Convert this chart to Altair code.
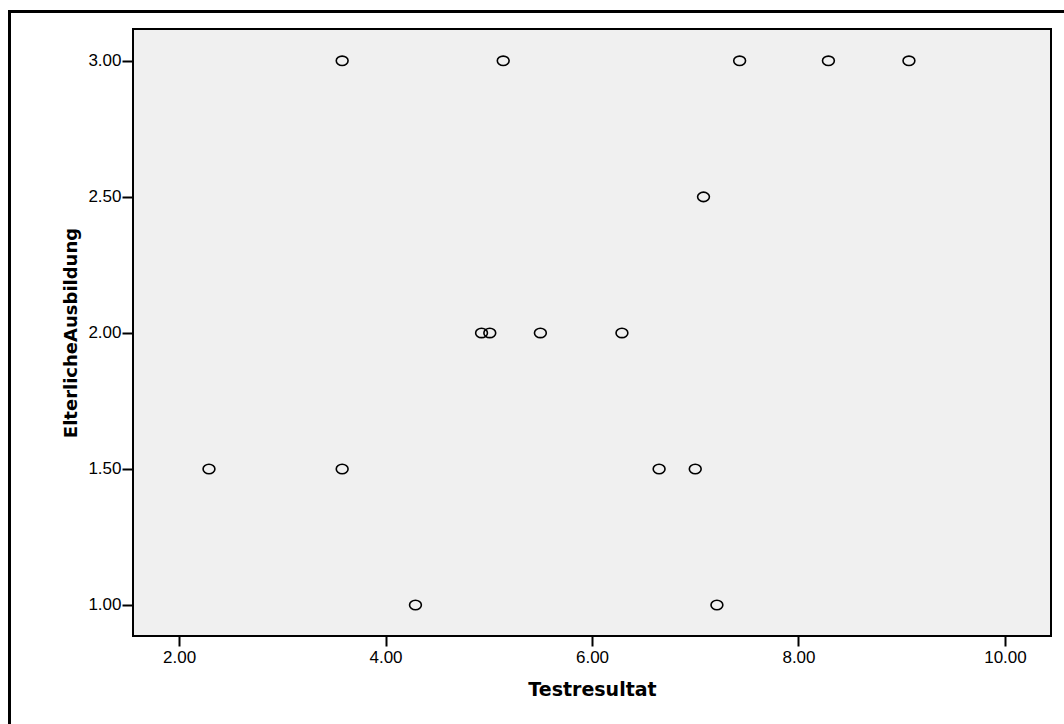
import altair as alt
import pandas as pd

# Testresultat (x) and Elterliche Ausbildung (y) per case
testresultat = [3.58, 5.14, 7.43, 8.29, 9.07,
                7.08,
                4.93, 5.01, 5.50, 6.29,
                2.29, 3.58, 6.65, 7.00,
                4.29, 7.21]
ausbildung = [3.0, 3.0, 3.0, 3.0, 3.0,
              2.5,
              2.0, 2.0, 2.0, 2.0,
              1.5, 1.5, 1.5, 1.5,
              1.0, 1.0]

x_ticks = [2, 4, 6, 8, 10]
y_ticks = [1.0, 1.5, 2.0, 2.5, 3.0]

df = pd.DataFrame({"Testresultat": testresultat, "Ausbildung": ausbildung})

W, H = 918, 607
ELLIPSE = "M-1,0 A1,0.8 0 1,1 1,0 A1,0.8 0 1,1 -1,0 Z"

points = alt.Chart(df).mark_point(
    shape=ELLIPSE, filled=False, stroke="black", strokeWidth=1.6, size=140, opacity=1
).encode(
    x=alt.X(
        "Testresultat:Q",
        scale=alt.Scale(domain=[1.554, 10.446], nice=False, zero=False),
        axis=alt.Axis(
            values=x_ticks, format=".2f", title="Testresultat",
            domain=False, grid=False,
            tickColor="black", tickWidth=2, tickSize=10,
            labelFont="Liberation Sans", labelFontSize=17, labelColor="black",
            labelPadding=3,
            titleFont="DejaVu Sans", titleFontSize=19, titleFontWeight="bold",
            titleColor="black", titleY=59, titleBaseline="alphabetic",
        ),
    ),
    y=alt.Y(
        "Ausbildung:Q",
        scale=alt.Scale(domain=[0.886, 3.117], nice=False, zero=False),
        axis=alt.Axis(
            values=y_ticks, format=".2f", title="ElterlicheAusbildung",
            domain=False, grid=False,
            tickColor="black", tickWidth=2, tickSize=11,
            labelFont="Liberation Sans", labelFontSize=17, labelColor="black",
            labelPadding=1,
            titleFont="DejaVu Sans", titleFontSize=18, titleFontWeight="bold",
            titleColor="black", titleAngle=-90, titleX=-57, titleY=H / 2,
            titleAlign="center", titleBaseline="alphabetic",
        ),
    ),
)

# outer border around the whole figure
frame = alt.Chart(df).mark_rect(
    fill="transparent", stroke="black", strokeWidth=3
).encode(
    x=alt.value(-123.5), x2=alt.value(960),
    y=alt.value(-17.5), y2=alt.value(760),
)

chart = alt.layer(points, frame).properties(
    width=W, height=H,
    autosize=alt.AutoSizeParams(type="none"),
    padding={"left": 133, "top": 29, "right": 13, "bottom": 88},
    background="white",
).configure_view(
    fill="#f0f0f0", stroke="black", strokeWidth=2
)

chart.save("out.html", embed_options={"renderer": "svg", "actions": False})
